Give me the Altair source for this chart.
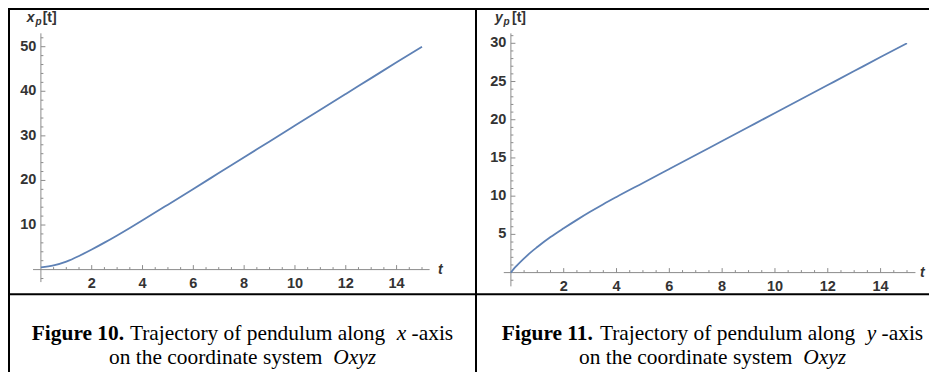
import altair as alt
import pandas as pd

# ---------------- data ----------------
t_left = [0, 0.5, 1, 1.5, 2, 2.5, 3, 3.5, 4, 5, 6, 7, 8, 9, 10, 11, 12, 13, 14, 15]
xp_vals = [0.5, 0.95, 1.8, 3.05, 4.5, 6.05, 7.67, 9.35, 11.07, 14.57, 18.1, 21.65,
           25.2, 28.75, 32.3, 35.85, 39.4, 42.95, 46.5, 50.0]

t_right = [0, 0.1, 0.25, 0.5, 0.75, 1, 1.5, 2, 2.5, 3, 3.5, 4, 5, 6, 7, 8, 9, 10,
           11, 12, 13, 14, 15]
yp_vals = [0, 0.45, 1.0, 1.85, 2.65, 3.35, 4.65, 5.8, 6.9, 7.95, 8.95, 9.9, 11.73,
           13.56, 15.39, 17.22, 19.05, 20.88, 22.71, 24.54, 26.37, 28.2, 30.0]

x_major = [2, 4, 6, 8, 10, 12, 14]
x_minor = [0.5, 1, 1.5, 2.5, 3, 3.5, 4.5, 5, 5.5, 6.5, 7, 7.5, 8.5, 9, 9.5, 10.5,
           11, 11.5, 12.5, 13, 13.5, 14.5, 15]

yL_major = [10, 20, 30, 40, 50]
yL_minor = [-2, 2, 4, 6, 8, 12, 14, 16, 18, 22, 24, 26, 28, 32, 34, 36, 38, 42,
            44, 46, 48, 52]
yR_major = [5, 10, 15, 20, 25, 30]
yR_minor = [-1, 1, 2, 3, 4, 6, 7, 8, 9, 11, 12, 13, 14, 16, 17, 18, 19, 21, 22,
            23, 24, 26, 27, 28, 29, 31]

# axis extents (data units)
xL_ext, yL_ext = [-0.31, 15.3], [-2.8, 53.0]
xR_ext, yR_ext = [-0.27, 15.32], [-1.8, 31.3]

LINE_COLOR = "#5E81B5"
AX_COLOR = "#8c8c8c"
LAB_COLOR = "#333333"
SANS = "Liberation Sans"
SERIF = "Liberation Serif"


def fmt(v):
    return str(int(v)) if float(v).is_integer() else str(v)


def panel(t, v, xs, ys, x_ext, y_ext, ymaj, ymin):
    X = lambda f: alt.X(f, scale=xs, axis=None)
    Y = lambda f: alt.Y(f, scale=ys, axis=None)
    X2 = lambda f: alt.X2(f)
    Y2 = lambda f: alt.Y2(f)

    xaxis = alt.Chart(pd.DataFrame({"a": [x_ext[0]], "b": [x_ext[1]], "z": [0]})).mark_rule(
        color=AX_COLOR, strokeWidth=1).encode(x=X("a:Q"), x2=X2("b"), y=Y("z:Q"))
    yaxis = alt.Chart(pd.DataFrame({"z": [0], "a": [y_ext[0]], "b": [y_ext[1]]})).mark_rule(
        color=AX_COLOR, strokeWidth=1).encode(x=X("z:Q"), y=Y("a:Q"), y2=Y2("b"))

    xt_maj = alt.Chart(pd.DataFrame({"t": x_major, "z": 0})).mark_rule(
        color=AX_COLOR, strokeWidth=1, y2Offset=-4.5).encode(
        x=X("t:Q"), y=Y("z:Q"), y2=Y2("z"))
    xt_min = alt.Chart(pd.DataFrame({"t": x_minor, "z": 0})).mark_rule(
        color=AX_COLOR, strokeWidth=1, y2Offset=-2.5).encode(
        x=X("t:Q"), y=Y("z:Q"), y2=Y2("z"))
    yt_maj = alt.Chart(pd.DataFrame({"v": ymaj, "z": 0})).mark_rule(
        color=AX_COLOR, strokeWidth=1, x2Offset=4.5).encode(
        y=Y("v:Q"), x=X("z:Q"), x2=X2("z"))
    yt_min = alt.Chart(pd.DataFrame({"v": ymin, "z": 0})).mark_rule(
        color=AX_COLOR, strokeWidth=1, x2Offset=2.5).encode(
        y=Y("v:Q"), x=X("z:Q"), x2=X2("z"))

    xlab = alt.Chart(pd.DataFrame({"t": x_major, "z": 0,
                                   "lab": [fmt(a) for a in x_major]})).mark_text(
        font=SANS, fontSize=14.5, fontWeight="bold", color=LAB_COLOR,
        align="center", baseline="alphabetic", dy=18).encode(
        x=X("t:Q"), y=Y("z:Q"), text="lab:N")
    ylab = alt.Chart(pd.DataFrame({"v": ymaj, "z": 0,
                                   "lab": [fmt(a) for a in ymaj]})).mark_text(
        font=SANS, fontSize=14.5, fontWeight="bold", color=LAB_COLOR,
        align="right", baseline="middle", dx=-4.5).encode(
        x=X("z:Q"), y=Y("v:Q"), text="lab:N")

    curve = alt.Chart(pd.DataFrame({"t": t, "v": v})).mark_line(
        color=LINE_COLOR, strokeWidth=1.8, interpolate="monotone").encode(
        x=X("t:Q"), y=Y("v:Q"))

    return alt.layer(xaxis, yaxis, xt_maj, xt_min, yt_maj, yt_min, xlab, ylab, curve)


left = panel(t_left, xp_vals,
             alt.Scale(domain=[0, 15], range=[32.9, 414.0], nice=False, zero=False),
             alt.Scale(domain=[0, 50], range=[261.6, 38.7], nice=False, zero=False),
             xL_ext, yL_ext, yL_major, yL_minor)
right = panel(t_right, yp_vals,
              alt.Scale(domain=[0, 15], range=[502.9, 899.0], nice=False, zero=False),
              alt.Scale(domain=[0, 30], range=[264.6, 35.3], nice=False, zero=False),
              xR_ext, yR_ext, yR_major, yR_minor)

one = pd.DataFrame({"d": [0]})


def txt(s, x, y, font, size, weight="normal", style="normal", color="black", align="left"):
    return alt.Chart(one).mark_text(
        text=s, font=font, fontSize=size, fontWeight=weight, fontStyle=style,
        color=color, align=align, baseline="alphabetic").encode(
        x=alt.value(x), y=alt.value(y))


def rule(x1, y1, x2, y2, w=2):
    return alt.Chart(one).mark_rule(color="black", strokeWidth=w).encode(
        x=alt.value(x1), y=alt.value(y1), x2=alt.value(x2), y2=alt.value(y2))


decor = [
    # table borders
    rule(0, 1, 921, 1), rule(1, 0, 1, 364), rule(468, 0, 468, 364),
    rule(0, 286.3, 921, 286.3),
    # axis titles
    txt("x", 18.7, 14, SANS, 14, "bold", "italic", LAB_COLOR),
    txt("p", 27.5, 17, SANS, 10, "bold", "italic", LAB_COLOR),
    txt("[t]", 34.7, 14, SANS, 14, "bold", "normal", LAB_COLOR),
    txt("t", 430, 266, SANS, 14, "bold", "italic", LAB_COLOR),
    txt("y", 487, 13.5, SANS, 14, "bold", "italic", LAB_COLOR),
    txt("p", 495.5, 16.5, SANS, 10, "bold", "italic", LAB_COLOR),
    txt("[t]", 504, 13.5, SANS, 14, "bold", "normal", LAB_COLOR),
    txt("t", 912, 269, SANS, 14, "bold", "italic", LAB_COLOR),
    # captions
    txt("Figure 10.", 23.8, 332, SERIF, 21.4, "bold"),
    txt("Trajectory of pendulum along", 121.9, 332, SERIF, 21.4),
    txt("x", 388.8, 332, SERIF, 21.4, style="italic"),
    txt("-axis", 403.6, 332, SERIF, 21.4),
    txt("on the coordinate system", 101.1, 356, SERIF, 21.4),
    txt("Oxyz", 325.2, 356, SERIF, 21.4, style="italic"),
    txt("Figure 11.", 493.8, 332, SERIF, 21.4, "bold"),
    txt("Trajectory of pendulum along", 591.9, 332, SERIF, 21.4),
    txt("y", 858.8, 332, SERIF, 21.4, style="italic"),
    txt("-axis", 873.6, 332, SERIF, 21.4),
    txt("on the coordinate system", 571.1, 356, SERIF, 21.4),
    txt("Oxyz", 795.2, 356, SERIF, 21.4, style="italic"),
]

chart = alt.layer(left, right, *decor).resolve_scale(
    x="independent", y="independent"
).properties(
    width=921, height=364, padding=0,
    autosize=alt.AutoSizeParams(type="none"),
).configure_view(stroke=None).configure(background="white")

chart.save("out.html", embed_options={"renderer": "svg", "actions": False})
